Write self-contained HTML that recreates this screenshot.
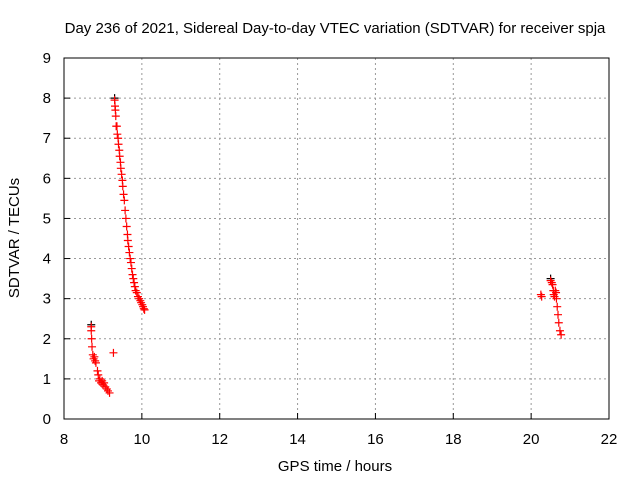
<!DOCTYPE html>
<html><head><meta charset="utf-8"><style>
body{margin:0;background:#fff;}
svg{display:block;font-family:"Liberation Sans",sans-serif;}
</style></head><body>
<svg id="chart" width="640" height="480">
<text x="335" y="33" font-size="15" text-anchor="middle">Day 236 of 2021, Sidereal Day-to-day VTEC variation (SDTVAR) for receiver spja</text>
<text x="335" y="471" font-size="15" text-anchor="middle">GPS time / hours</text>
<text transform="translate(19,238) rotate(-90)" font-size="15" text-anchor="middle">SDTVAR / TECUs</text>
<g id="grid"></g><g id="ticks"></g><g id="marks"></g>
<rect x="64" y="58" width="545" height="361" fill="none" stroke="#000"/>
</svg>
<script>
const xTicks=[8,10,12,14,16,18,20,22];
const yTicks=[0,1,2,3,4,5,6,7,8,9];
const redTimes=[8.70,8.70,8.71,8.72,8.74,8.76,8.78,8.80,8.82,8.86,8.88,8.90,8.92,8.95,8.98,9.00,9.03,9.06,9.10,9.13,9.17,9.27,
9.30,9.31,9.32,9.33,9.34,9.36,9.37,9.39,9.40,9.42,9.43,9.45,9.46,9.48,9.50,9.51,9.53,9.55,9.57,9.59,9.61,9.63,9.64,9.66,9.68,9.70,9.72,9.74,9.76,9.78,9.80,9.82,9.84,9.87,9.90,9.93,9.96,9.98,10.01,10.03,10.05,10.07,
20.25,20.27,20.50,20.53,20.55,20.57,20.58,20.60,20.62,20.64,20.65,20.67,20.69,20.71,20.74,20.77];
const redValues=[2.3,2.2,2.0,1.8,1.6,1.5,1.55,1.45,1.4,1.2,1.1,0.95,1.0,0.9,0.95,0.85,0.9,0.8,0.75,0.7,0.65,1.65,
7.95,7.8,7.7,7.55,7.3,7.3,7.1,7.0,6.85,6.7,6.55,6.4,6.25,6.1,5.95,5.8,5.6,5.45,5.2,5.0,4.8,4.6,4.45,4.3,4.15,4.0,3.9,3.75,3.6,3.5,3.4,3.3,3.2,3.15,3.05,3.0,2.95,2.9,2.85,2.8,2.75,2.72,
3.1,3.05,3.45,3.4,3.35,3.2,3.1,3.05,3.2,3.15,3.0,2.8,2.6,2.4,2.2,2.1];
const blackTimes=[8.70,9.30,20.50];
const blackValues=[2.35,8.0,3.5];
const X0=64,X1=609,Y0=419,Y1=58;
const xs=h=>X0+(h-8)/(22-8)*(X1-X0);
const ys=v=>Y0-v/9*(Y0-Y1);
const NS="http://www.w3.org/2000/svg";
function mk(tag,attrs,parent){const e=document.createElementNS(NS,tag);for(const k in attrs)e.setAttribute(k,attrs[k]);parent.appendChild(e);return e;}
const grid=document.getElementById('grid'),ticks=document.getElementById('ticks'),marks=document.getElementById('marks');
xTicks.forEach(t=>{const x=xs(t);
 if(t>8&&t<22){const g=mk('line',{x1:x,x2:x,y1:Y1,y2:Y0,stroke:'#999','stroke-dasharray':'2,3'},grid);
 
 }
 const tl=mk('line',{x1:x,x2:x,y1:Y0,y2:Y0-6,stroke:'#000'},ticks);
 
 
 const tx=mk('text',{x:x,y:444,'font-size':15,'text-anchor':'middle'},ticks);tx.textContent=t;
 
 
});
yTicks.forEach(t=>{const y=ys(t);
 if(t>0&&t<9){const g=mk('line',{x1:X0,x2:X1,y1:y,y2:y,stroke:'#999','stroke-dasharray':'2,3'},grid);
 
 }
 const tl=mk('line',{x1:X0,x2:X0+6,y1:y,y2:y,stroke:'#000'},ticks);
 
 
 const tx=mk('text',{x:51,y:y+5,'font-size':15,'text-anchor':'end'},ticks);tx.textContent=t;
 
 
});
function plus(h,v,color,name){const x=xs(h),y=ys(v);
 const p=mk('path',{d:`M${x-4},${y}H${x+4}M${x},${y-4}V${y+4}`,stroke:color,'stroke-width':1.2,fill:'none'},marks);
 
 }
blackTimes.forEach((h,i)=>plus(h,blackValues[i],'#000','black-point'));
redTimes.forEach((h,i)=>plus(h,redValues[i],'#f00','red-point'));
</script>
</body></html>
